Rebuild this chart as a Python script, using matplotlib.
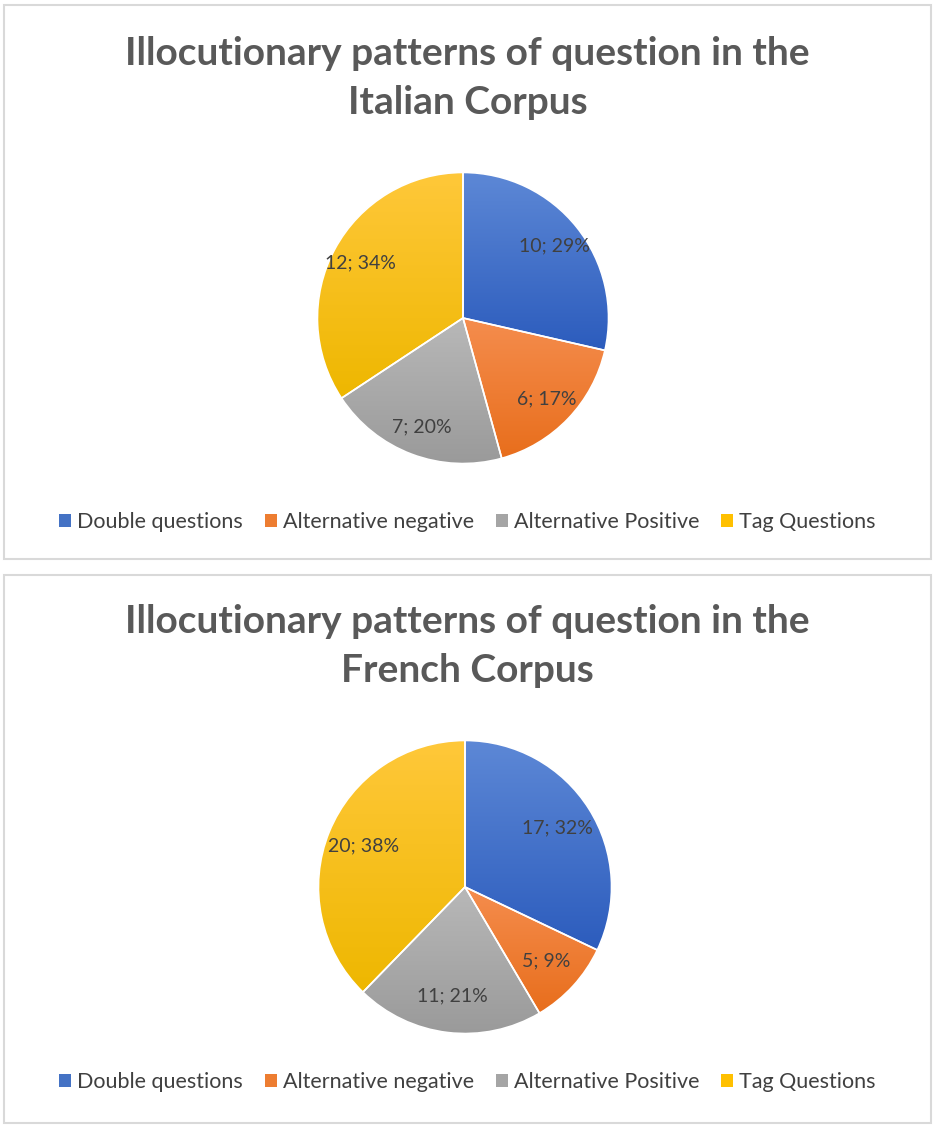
import numpy as np
import matplotlib.pyplot as plt
import matplotlib.colors as mcolors
from matplotlib.patches import Rectangle, Patch

plt.rcParams['font.family'] = ['Lato', 'DejaVu Sans']

categories = ['Double questions', 'Alternative negative', 'Alternative Positive', 'Tag Questions']
italian_counts = [10, 6, 7, 12]
french_counts = [17, 5, 11, 20]
titles = ['Illocutionary patterns of question in the\nItalian Corpus',
          'Illocutionary patterns of question in the\nFrench Corpus']

# light (top) -> dark (bottom) per slice, excel-ish gradient fill
grad_colors = [('#5d88d6', '#2c5cbd'),
               ('#f58d4e', '#e86e1c'),
               ('#b8b8b8', '#9a9a9a'),
               ('#ffc83a', '#eeb700')]
base_colors = ['#4472c4', '#ed7d31', '#a5a5a5', '#ffc000']

W, H = 935, 1128
fig = plt.figure(figsize=(W / 100, H / 100), dpi=100)
fig.patch.set_facecolor('white')


def px_axes(cx, cy, r):
    return fig.add_axes([(cx - r) / W, 1 - (cy + r) / H, 2 * r / W, 2 * r / H])


def draw_panel(counts, title, top, bottom, cx, cy, r, title_y, leg_y, pctdist):
    fig.add_artist(Rectangle((4 / W, 1 - bottom / H), (W - 8) / W, (bottom - top) / H,
                             transform=fig.transFigure, fill=False,
                             edgecolor='#d9d9d9', lw=1.5))
    fig.text(0.5, 1 - title_y / H, title, ha='center', va='center',
             fontsize=28, fontweight='bold', color='#595959', linespacing=1.5)

    ax = px_axes(cx, cy, r)
    total = sum(counts)
    wedges, texts, autotexts = ax.pie(
        counts, startangle=90, counterclock=False, radius=1,
        autopct=lambda p: '{}; {:.0f}%'.format(int(round(p * total / 100)), p),
        pctdistance=pctdist,
        wedgeprops=dict(edgecolor='white', linewidth=1.2),
        textprops=dict(fontsize=14, color='#404040'))
    for w, (c1, c2) in zip(wedges, grad_colors):
        w.set_facecolor('none')
        ext = w.get_path().get_extents()
        cmap = mcolors.LinearSegmentedColormap.from_list('g', [c2, c1])
        grad = np.linspace(0, 1, 256).reshape(-1, 1)
        im = ax.imshow(grad, cmap=cmap, origin='lower', aspect='auto',
                       extent=[ext.x0, ext.x1, ext.y0, ext.y1], zorder=0.5)
        im.set_clip_path(w)
    ax.set_xlim(-1.01, 1.01)
    ax.set_ylim(-1.01, 1.01)
    ax.set_aspect('equal')
    ax.axis('off')

    handles = [Patch(facecolor=c, edgecolor='none') for c in base_colors]
    fig.legend(handles, categories, loc='center', ncol=4,
               bbox_to_anchor=(0.5, 1 - leg_y / H), frameon=False,
               fontsize=15.5, handlelength=0.55, handleheight=0.55,
               handletextpad=0.3, columnspacing=1.0, labelcolor='#404040')


draw_panel(italian_counts, titles[0], 5, 559, 463, 318, 147, 78, 522, 0.8)
draw_panel(french_counts, titles[1], 575, 1123, 465, 887, 148, 646, 1082, 0.75)

plt.savefig('out.png', dpi=100, facecolor='white')
